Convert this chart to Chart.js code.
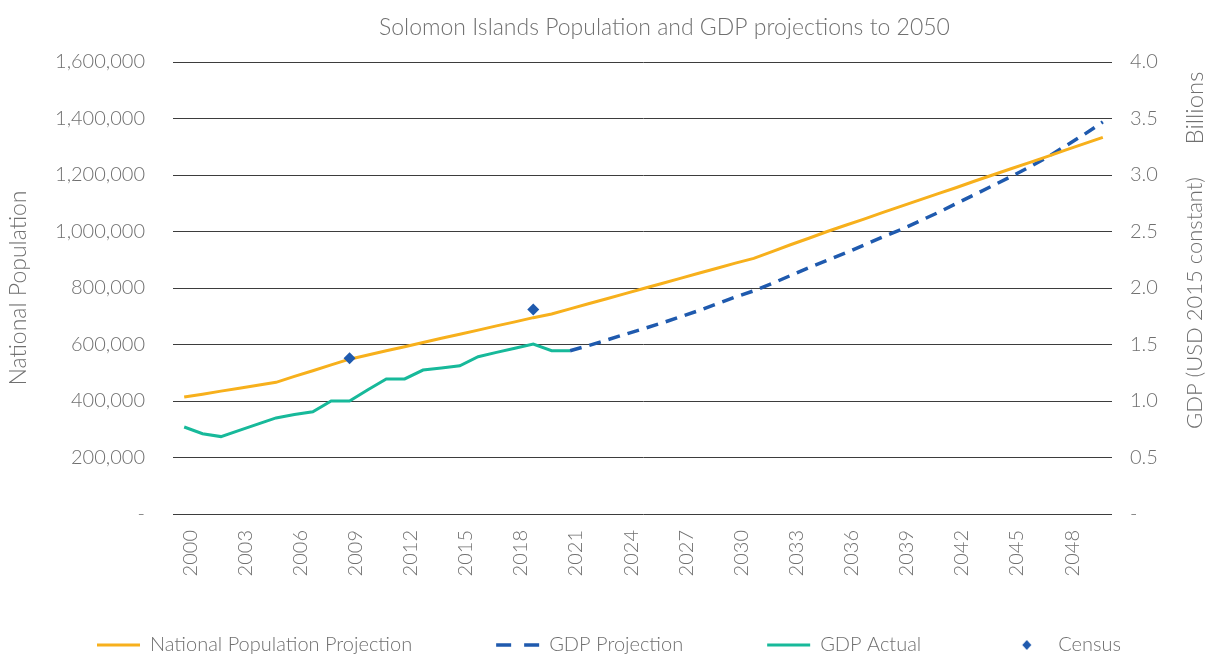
<!DOCTYPE html>
<html>
<head>
<meta charset="utf-8">
<title>Solomon Islands Population and GDP projections to 2050</title>
<script src="https://cdn.jsdelivr.net/npm/chart.js@4.4.1/dist/chart.umd.min.js"></script>
<style>
  html, body { margin: 0; padding: 0; background: #fff; }
</style>
</head>
<body>
<canvas id="myChart" width="1208" height="657"></canvas>
<script>
// categories
var years = ['2000','2001','2002','2003','2004','2005','2006','2007','2008','2009',
             '2010','2011','2012','2013','2014','2015','2016','2017','2018','2019',
             '2020','2021','2022','2023','2024','2025','2026','2027','2028','2029',
             '2030','2031','2032','2033','2034','2035','2036','2037','2038','2039',
             '2040','2041','2042','2043','2044','2045','2046','2047','2048','2049','2050'];

// national population projection, 2000-2050
var population = [414000, 424000, 435000, 445000, 456000, 466000, 487000, 507000, 528000, 548000,
                  563000, 578000, 592000, 607000, 622000, 636000, 651000, 666000, 680000, 695000,
                  708000, 726000, 744000, 762000, 780000, 798000, 816000, 834000, 852000, 870000,
                  888000, 905000, 929000, 953000, 976000, 1000000, 1022000, 1044000, 1067000, 1089000,
                  1111000, 1133000, 1155000, 1178000, 1200000, 1222000, 1244000, 1266000, 1289000, 1311000,
                  1333000];

// GDP actual (USD bn, 2015 constant), 2000-2021
var gdpActual = [0.77, 0.71, 0.685, 0.74, 0.795, 0.85, 0.88, 0.905, 1.0, 1.0,
                 1.10, 1.195, 1.195, 1.274, 1.293, 1.312, 1.392, 1.43, 1.467, 1.504,
                 1.445, 1.445];

// GDP projection, 2021-2050
var gdpProjStart = '2021';
var gdpProjection = [1.445, 1.49, 1.54, 1.59, 1.64, 1.69, 1.745, 1.80, 1.86,
                     1.92, 1.975, 2.04, 2.11, 2.18, 2.245, 2.31, 2.38, 2.45, 2.515,
                     2.59, 2.665, 2.745, 2.825, 2.905, 2.985, 3.07, 3.16, 3.26, 3.36, 3.47];

// census counts
var censusYears = ['2009', '2019'];
var censusValues = [551000, 724000];

// tick labels
var popTicks = [0, 200000, 400000, 600000, 800000, 1000000, 1200000, 1400000, 1600000];
var gdpTicks = [0, 0.5, 1.0, 1.5, 2.0, 2.5, 3.0, 3.5, 4.0];

var textColor = '#707070';
var gridColor = '#3d3d3d';
var fontName = 'Lato';

function pad(arr, startLabel) {
  var out = [];
  var k = years.indexOf(startLabel);
  for (var j = 0; j < years.length; j++) {
    out.push(j >= k && j - k < arr.length ? arr[j - k] : null);
  }
  return out;
}

function diamondIcon(color) {
  var c = document.createElement('canvas');
  c.width = 12; c.height = 12;
  var g = c.getContext('2d');
  g.fillStyle = color;
  g.beginPath();
  g.moveTo(6, 1); g.lineTo(10.5, 6); g.lineTo(6, 11); g.lineTo(1.5, 6);
  g.closePath();
  g.fill();
  return c;
}

function rotatedText(ctx, txt, x, y, size) {
  ctx.save();
  ctx.fillStyle = textColor;
  ctx.textAlign = 'center';
  ctx.textBaseline = 'middle';
  ctx.font = '300 ' + size + 'px ' + fontName;
  ctx.translate(x, y);
  ctx.rotate(-Math.PI / 2);
  ctx.fillText(txt, 0, 0);
  ctx.restore();
}

var texts = {
  id: 'texts',
  afterDraw: function(chart) {
    var ctx = chart.ctx, a = chart.chartArea;
    ctx.save();
    ctx.fillStyle = textColor;
    ctx.textAlign = 'center';
    ctx.textBaseline = 'middle';
    ctx.font = '300 23px ' + fontName;
    ctx.fillText('Solomon Islands Population and GDP projections to 2050', (a.left + a.right) / 2 + 21, 28);
    ctx.restore();

    rotatedText(ctx, 'Billions', chart.width - 13, a.top + 46, 24);
    rotatedText(ctx, 'GDP (USD 2015 constant)', chart.width - 13, (a.top + a.bottom) / 2 + 15, 22);
  }
};

window.onload = function() {
  var censusIcon = diamondIcon('#1f5aae');
  var ctx = document.getElementById('myChart').getContext('2d');
  var myChart = new Chart(ctx, {
    type: 'line',
    data: {
      labels: years,
      datasets: [{
        label: 'National Population Projection',
        data: population,
        yAxisID: 'y',
        borderColor: '#f7b01c',
        backgroundColor: '#f7b01c',
        borderWidth: 3,
        pointRadius: 0,
        tension: 0,
        order: 2
      }, {
        label: 'GDP Projection',
        data: pad(gdpProjection, gdpProjStart),
        yAxisID: 'y2',
        borderColor: '#1f5aae',
        backgroundColor: '#1f5aae',
        borderWidth: 3.5,
        borderDash: [12, 8],
        legendDash: [15, 13],
        pointRadius: 0,
        tension: 0,
        order: 3
      }, {
        label: 'GDP Actual',
        data: gdpActual,
        yAxisID: 'y2',
        borderColor: '#17b99a',
        backgroundColor: '#17b99a',
        borderWidth: 3,
        pointRadius: 0,
        tension: 0,
        order: 1
      }, {
        label: 'Census',
        data: censusYears.map(function(y, k) { return {x: y, y: censusValues[k]}; }),
        yAxisID: 'y',
        showLine: false,
        borderColor: '#1f5aae',
        backgroundColor: '#1f5aae',
        pointStyle: 'rectRot',
        pointRadius: 6,
        pointBorderWidth: 0,
        order: 0,
        icon: censusIcon
      }]
    },
    options: {
      responsive: false,
      animation: false,
      layout: { padding: { top: 62, left: 13, right: 0, bottom: 0 } },
      plugins: {
        title: { display: false },
        tooltip: { enabled: false },
        legend: {
          position: 'bottom',
          align: 'start',
          maxHeight: 77,
          // empty title with negative padding lifts the single legend row
          title: { display: true, text: '', font: { size: 1 }, padding: { top: -30.2, bottom: 0 } },
          labels: {
            usePointStyle: true,
            pointStyleWidth: 43,
            boxWidth: 43,
            boxHeight: 10,
            padding: 84,
            color: textColor,
            font: { family: fontName, size: 20, weight: '300' },
            generateLabels: function(chart) {
              return chart.data.datasets.map(function(ds, k) {
                return {
                  text: ds.label,
                  fillStyle: ds.borderColor,
                  strokeStyle: ds.borderColor,
                  lineWidth: ds.icon ? 0 : ds.borderWidth,
                  lineDash: ds.legendDash || [],
                  pointStyle: ds.icon || 'line',
                  fontColor: textColor,
                  hidden: false,
                  datasetIndex: k
                };
              });
            }
          }
        }
      },
      scales: {
        x: {
          type: 'category',
          offset: true,
          grid: { display: false, drawTicks: false },
          border: { display: false },
          afterFit: function(s) { s.height = 66; },
          ticks: {
            autoSkip: false,
            minRotation: 90,
            maxRotation: 90,
            padding: 16,
            labelOffset: 6,
            color: textColor,
            font: { family: fontName, size: 20, weight: '300' },
            callback: function(v, idx) { return idx % 3 === 0 ? years[idx] : ''; }
          }
        },
        y: {
          position: 'left',
          min: 0,
          max: 1600000,
          afterBuildTicks: function(s) { s.ticks = popTicks.map(function(v) { return {value: v}; }); },
          afterFit: function(s) { s.width = 162; },
          grid: { color: gridColor, lineWidth: 1, drawTicks: true, tickLength: 2 },
          border: { display: false },
          title: {
            display: true,
            text: 'National Population',
            color: textColor,
            font: { family: fontName, size: 23, weight: '300' },
            padding: { top: -7.8, bottom: 0 }
          },
          ticks: {
            padding: 28,
            color: textColor,
            font: { family: fontName, size: 20, weight: '300' },
            callback: function(v) { return v === 0 ? '-' : v.toLocaleString('en-US'); }
          }
        },
        y2: {
          position: 'right',
          min: 0,
          max: 4,
          afterBuildTicks: function(s) { s.ticks = gdpTicks.map(function(v) { return {value: v}; }); },
          afterFit: function(s) { s.width = 96; },
          grid: { display: false, drawTicks: false, drawOnChartArea: false },
          border: { display: false },
          ticks: {
            padding: 18,
            color: textColor,
            font: { family: fontName, size: 20, weight: '300' },
            callback: function(v) { return v === 0 ? '-' : v.toFixed(1); }
          }
        }
      }
    },
    plugins: [texts]
  });
};
</script>
</body>
</html>
